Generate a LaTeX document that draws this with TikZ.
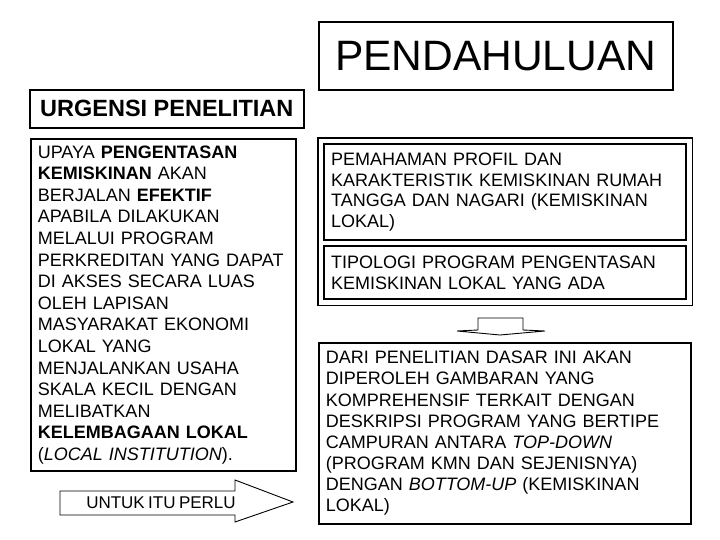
\documentclass[tikz,border=0pt]{standalone}
\usepackage{fontspec}
\setmainfont{Liberation Sans}
\usetikzlibrary{fit}

\tikzset{
  kotak/.style={draw, line width=1.6pt, anchor=north west, inner xsep=7pt, inner ysep=0pt,
    align=left, font=\fontsize{18}{21.6}\selectfont},
  kotaktebal/.style={kotak, line width=2.4pt, font=\fontsize{18}{20.5}\selectfont},
  judul/.style={draw, line width=1.6pt, anchor=north west, inner sep=0pt, align=center},
  panah/.style={draw, line width=0.9pt, line join=miter},
}

\begin{document}
\begin{tikzpicture}[x=1pt,y=-1pt]
\fill[white] (0,0) rectangle (720,540);
\useasboundingbox (0,0) rectangle (720,540);

\node[judul, minimum width=354, minimum height=68, font=\fontsize{42.5}{50}\selectfont]
  (pendahuluan) at (318,21) {PENDAHULUAN};
\node[judul, minimum width=274, minimum height=38, font=\fontsize{23.5}{28}\selectfont\bfseries]
  (urgensi) at (29,89) {URGENSI PENELITIAN};

\node[kotak, text width=251, minimum height=332] (upaya) at (30,138) {%
UPAYA \textbf{PENGENTASAN}\\
\textbf{KEMISKINAN} AKAN\\
BERJALAN \textbf{EFEKTIF}\\
APABILA DILAKUKAN\\
MELALUI PROGRAM\\
PERKREDITAN YANG DAPAT\\
DI AKSES SECARA LUAS\\
OLEH LAPISAN\\
MASYARAKAT EKONOMI\\
LOKAL YANG\\
MENJALANKAN USAHA\\
SKALA KECIL DENGAN\\
MELIBATKAN\\
\textbf{KELEMBAGAAN LOKAL}\\
(\textit{LOCAL INSTITUTION}).};

\node[kotaktebal, text width=348, minimum height=96] (profil) at (323,143) {%
PEMAHAMAN PROFIL DAN\\
KARAKTERISTIK KEMISKINAN RUMAH\\
TANGGA DAN NAGARI (KEMISKINAN\\
LOKAL)};
\node[kotaktebal, text width=348, minimum height=53] (tipologi) at (323,245) {%
TIPOLOGI PROGRAM PENGENTASAN\\
KEMISKINAN LOKAL YANG ADA};
\node[draw, line width=1.6pt, fit=(profil)(tipologi), inner sep=5pt] (riset) {};

\node[kotak, text width=358, minimum height=181, font=\fontsize{18}{21.1}\selectfont]
  (hasil) at (318,342) {%
DARI PENELITIAN DASAR INI AKAN\\
DIPEROLEH GAMBARAN YANG\\
KOMPREHENSIF TERKAIT DENGAN\\
DESKRIPSI PROGRAM YANG BERTIPE\\
CAMPURAN ANTARA \textit{TOP-DOWN}\\
(PROGRAM KMN DAN SEJENISNYA)\\
DENGAN \textit{BOTTOM-UP} (KEMISKINAN\\
LOKAL)};

% panah blok
\draw[panah] (478,318) -- (523,318) -- (523,330) -- (545,331) -- (500,335)
  -- (457,331) -- (478,330) -- cycle;
\draw[panah] (60,491) -- (235,491) -- (235,480) -- (293,502) -- (235,522)
  -- (235,515) -- (60,515) -- cycle;
\node[font=\fontsize{17}{19}\selectfont] (perlu) at (161,503)
  {\spaceskip 0.2em\relax UNTUK ITU PERLU};
\end{tikzpicture}
\end{document}
